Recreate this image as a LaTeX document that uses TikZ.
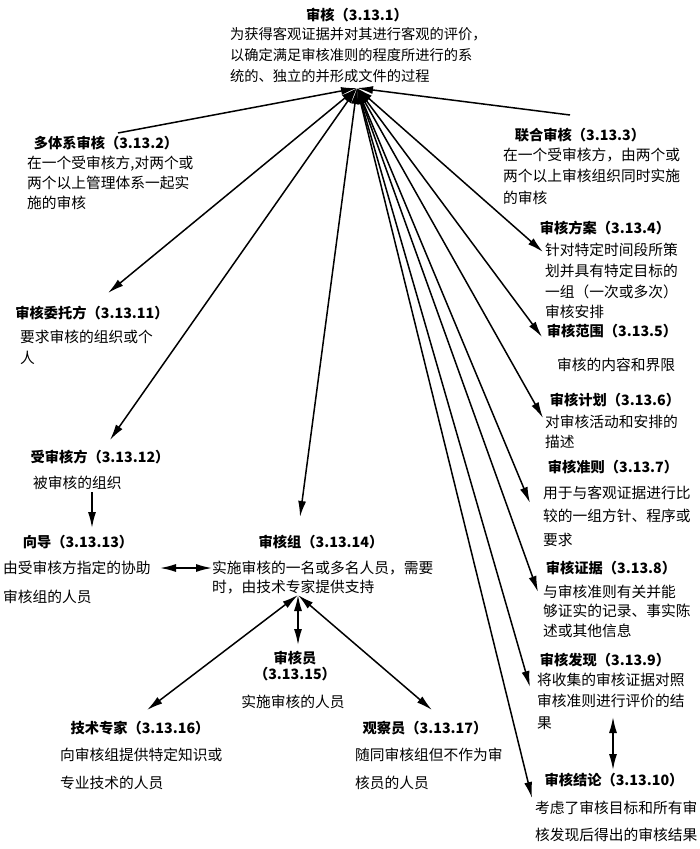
\documentclass[tikz,border=0pt]{standalone}
\usepackage{fontspec}
\setmainfont{Noto Sans CJK SC}
\usetikzlibrary{arrows.meta}
\begin{document}
\begin{tikzpicture}[x=1bp,y=-1bp,
  ttl/.style={font=\fontsize{14.3}{17}\selectfont\bfseries, inner sep=0pt, anchor=center, align=center},
  body/.style={font=\fontsize{14.8}{#1}\selectfont, inner sep=0pt, align=left, anchor=north west},
  body/.default=21,
  con/.style={line width=1.5bp},
  tip/.tip={Latex[length=16bp,width=8bp]},
  one/.style={con,-tip},
  two/.style={con,tip-tip}
]
\useasboundingbox (0,0) rectangle (700,849);

% ---- texts ----
\node[ttl] (t1) at (357,15) {审核（3.13.1）};
\node[body=21, font=\fontsize{14.3}{21}\selectfont] (b1) at (230,27.5) {为获得客观证据并对其进行客观的评价，\\以确定满足审核准则的程度所进行的系\\统的、独立的并形成文件的过程};

\node[ttl] (t2) at (106,143) {多体系审核（3.13.2）};
\node[body=20] (b2) at (27,155.5) {在一个受审核方,对两个或\\两个以上管理体系一起实\\施的审核};

\node[ttl] (t3) at (580,135) {联合审核（3.13.3）};
\node[body=21.5] (b3) at (503,147.5) {在一个受审核方，由两个或\\两个以上审核组织同时实施\\的审核};

\node[ttl] (t4) at (605,228) {审核方案（3.13.4）};
\node[body=21] (b4) at (545,242.5) {针对特定时间段所策\\划并具有特定目标的\\一组（一次或多次）\\审核安排};

\node[ttl] (t5) at (612,331) {审核范围（3.13.5）};
\node[body] (b5) at (557,357.5) {审核的内容和界限};

\node[ttl] (t6) at (615,400) {审核计划（3.13.6）};
\node[body=20] (b6) at (545,414.5) {对审核活动和安排的\\描述};

\node[ttl] (t7) at (613,467) {审核准则（3.13.7）};
\node[body=23.5] (b7) at (543,485.5) {用于与客观证据进行比\\较的一组方针、程序或\\要求};

\node[ttl] (t8) at (611,568) {审核证据（3.13.8）};
\node[body=19.5] (b8) at (543,584.5) {与审核准则有关并能\\够证实的记录、事实陈\\述或其他信息};

\node[ttl] (t9) at (605,660) {审核发现（3.13.9）};
\node[body=21.5] (b9) at (537,672.5) {将收集的审核证据对照\\审核准则进行评价的结\\果};

\node[ttl] (t10) at (614,780) {审核结论（3.13.10）};
\node[body=27] (b10) at (535,800.5) {考虑了审核目标和所有审\\核发现后得出的审核结果};

\node[ttl] (t11) at (92,313) {审核委托方（3.13.11）};
\node[body=21] (b11) at (20,329.5) {要求审核的组织或个\\人};

\node[ttl] (t12) at (100,457) {受审核方（3.13.12）};
\node[body] (b12) at (33,475.5) {被审核的组织};

\node[ttl] (t13) at (78,542) {向导（3.13.13）};
\node[body=29] (b13) at (3,560.5) {由受审核方指定的协助\\审核组的人员};

\node[ttl] (t14) at (321,542) {审核组（3.13.14）};
\node[body=19.5] (b14) at (212,560.5) {实施审核的一名或多名人员，需要\\时，由技术专家提供支持};

\node[ttl] (t15) at (295,666) {审核员\\（3.13.15）};
\node[body, anchor=center] (b15) at (293,702) {实施审核的人员};

\node[ttl] (t16) at (140,728) {技术专家（3.13.16）};
\node[body=28] (b16) at (60,747.5) {向审核组提供特定知识或\\专业技术的人员};

\node[ttl] (t17) at (425,728) {观察员（3.13.17）};
\node[body=28] (b17) at (355,747.5) {随同审核组但不作为审\\核员的人员};

% ---- connector points ----
\coordinate (hub) at (357,88);
\coordinate (e2) at (118,133);
\coordinate (e3) at (570,115);
\coordinate (e4) at (543,252);
\coordinate (e5) at (542,337);
\coordinate (e6) at (543,418);
\coordinate (e7) at (530,503);
\coordinate (e8) at (538,592);
\coordinate (e9) at (530,687);
\coordinate (e10) at (532,798);
\coordinate (e11) at (108,293);
\coordinate (e12) at (110,440);
\coordinate (e14) at (300,517);
\coordinate (hubg) at (298,595);
\coordinate (e15) at (298,645);
\coordinate (e16) at (147,710);
\coordinate (e17) at (432,710);
\coordinate (a12) at (92,492);
\coordinate (a13) at (92,528);
\coordinate (g1) at (160,568);
\coordinate (g2) at (212,568);
\coordinate (f1) at (613,717);
\coordinate (f2) at (613,770);

% ---- connectors ----
\draw[con,tip-] (hub) -- (e2);
\draw[con,tip-] (hub) -- (e3);
\foreach \e in {e4,e5,e6,e7,e8,e9,e10,e11,e12,e14}
  \draw[two] (hub) -- (\e);
\foreach \e in {e15,e16,e17}
  \draw[two] (hubg) -- (\e);
\draw[one] (a12) -- (a13);
\draw[two] (g1) -- (g2);
\draw[two] (f1) -- (f2);
\end{tikzpicture}
\end{document}
